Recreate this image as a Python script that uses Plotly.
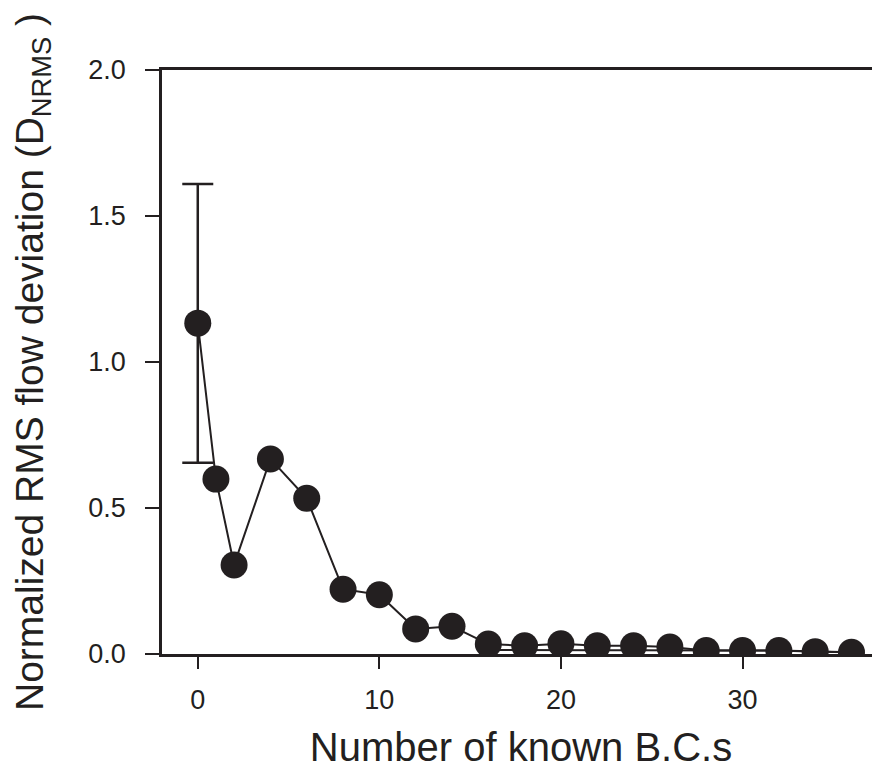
import plotly.graph_objects as go

x_bcs = [0, 1, 2, 4, 6, 8, 10, 12, 14, 16, 18, 20, 22, 24, 26, 28, 30, 32, 34, 36]
d_nrms = [1.133, 0.599, 0.305, 0.668, 0.533, 0.222, 0.203, 0.086, 0.095, 0.034,
          0.028, 0.035, 0.028, 0.028, 0.024, 0.012, 0.012, 0.012, 0.008, 0.006]

x_err = [0]
y_err = [1.133]
err_plus = [0.477]
err_minus = [0.478]

x_low = [16, 18, 20, 22, 24, 26, 28, 30, 32, 34, 36]
d_low = [0.014, 0.013, 0.013, 0.013, 0.013, 0.012, 0.012, 0.012, 0.012, 0.008, 0.006]

y_ticks = [0.0, 0.5, 1.0, 1.5, 2.0]
y_ticklabels = ["0.0", "0.5", "1.0", "1.5", "2.0"]
x_ticks = [0, 10, 20, 30]

ink = "#231f20"
font_family = "Liberation Sans, Arial, sans-serif"

fig = go.Figure()
fig.add_trace(go.Scatter(
    x=x_err, y=y_err, mode="markers",
    marker=dict(size=1, color="rgba(0,0,0,0)"),
    error_y=dict(type="data", symmetric=False, array=err_plus, arrayminus=err_minus,
                 color=ink, thickness=2.5, width=15.5),
    showlegend=False, hoverinfo="skip"))
fig.add_trace(go.Scatter(
    x=x_low, y=d_low, mode="lines",
    line=dict(color=ink, width=2), showlegend=False, hoverinfo="skip"))
fig.add_trace(go.Scatter(
    x=x_bcs, y=d_nrms, mode="lines+markers",
    line=dict(color=ink, width=2),
    marker=dict(size=27, color=ink, line=dict(width=0)),
    showlegend=False))

fig.update_layout(
    width=872, height=761,
    margin=dict(l=154, r=0, t=62, b=115),
    plot_bgcolor="white", paper_bgcolor="white",
    font=dict(family=font_family, color=ink),
    xaxis=dict(
        range=[-1.97, 37.57], tickvals=x_ticks, ticks="outside", ticklen=12,
        tickwidth=2, tickcolor=ink, showline=True, linecolor=ink, linewidth=2.5,
        mirror=True, showgrid=False, zeroline=False,
        tickfont=dict(size=27, color=ink), ticklabelstandoff=8,
        title=dict(text="Number of known B.C.s", font=dict(size=40, color=ink), standoff=20),
    ),
    yaxis=dict(
        range=[0, 2.0], tickvals=y_ticks, ticktext=y_ticklabels, ticks="outside",
        ticklen=14, tickwidth=2, tickcolor=ink, showline=True, linecolor=ink,
        linewidth=2.5, showgrid=False, zeroline=False,
        tickfont=dict(size=27, color=ink), ticklabelstandoff=14,
        title=dict(text="Normalized RMS flow deviation (D<sub>NRMS</sub> )",
                   font=dict(size=39, color=ink), standoff=34),
    ),
)

fig.write_html("out.html")
